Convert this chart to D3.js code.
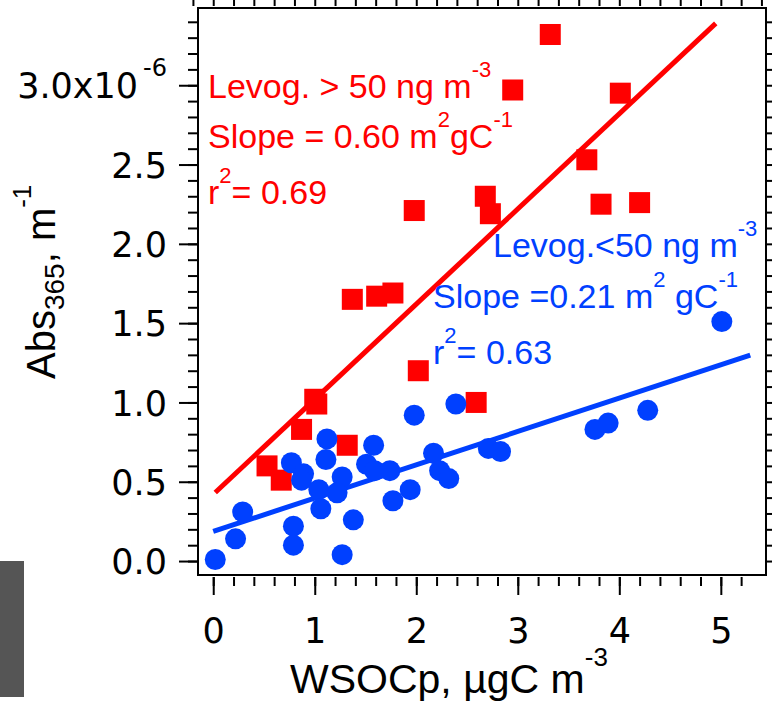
<!DOCTYPE html>
<html>
<head>
<meta charset="utf-8">
<script src="https://cdn.jsdelivr.net/npm/d3@7"></script>
<style>
  html, body { margin: 0; padding: 0; background: #fff; }
  svg { display: block; }
</style>
</head>
<body>
<svg id="chart" width="772" height="704"></svg>
<script>
// WSOCp (µgC m^-3) against Abs365 (units of 1e-6 m^-1)
// Samples with levoglucosan > 50 ng m^-3
const highWsoc = [3.32, 2.95, 4.01, 3.68, 3.82, 4.20, 2.68, 2.73, 1.98, 1.37, 1.61, 1.77, 2.02, 2.59, 1.00, 1.02, 0.87, 1.32, 0.53, 0.67];
const highAbs  = [3.32, 2.97, 2.95, 2.53, 2.25, 2.26, 2.30, 2.19, 2.21, 1.65, 1.67, 1.69, 1.20, 1.00, 1.02, 0.99, 0.83, 0.73, 0.60, 0.51];
// Samples with levoglucosan < 50 ng m^-3
const lowWsoc = [0.02, 0.22, 0.29, 0.79, 0.79, 0.77, 0.89, 0.87, 1.04, 1.06, 1.12, 1.11, 1.27, 1.22, 1.38, 1.27, 1.58, 1.51, 1.59, 1.74, 1.77, 1.94, 1.98, 2.39, 2.17, 2.23, 2.32, 2.71, 2.83, 3.76, 3.89, 4.28, 5.01];
const lowAbs  = [0.01, 0.14, 0.31, 0.22, 0.10, 0.62, 0.55, 0.51, 0.45, 0.33, 0.77, 0.64, 0.53, 0.43, 0.26, 0.04, 0.73, 0.61, 0.57, 0.57, 0.38, 0.45, 0.92, 0.99, 0.68, 0.57, 0.52, 0.71, 0.69, 0.83, 0.87, 0.95, 1.51];

// Linear fits: [intercept, slope] and the x span each line covers
const highFit = [0.42, 0.60];
const highFitSpan = [0.02, 4.95];
const lowFit = [0.187, 0.21];
const lowFitSpan = [0.0, 5.29];

// Axis ticks and labels
const xMajorTicks = [0, 1, 2, 3, 4, 5];
const xTickLabels = ["0", "1", "2", "3", "4", "5"];
const xMinorTicks = d3.range(0, 26.5).map(i => +(i * 0.2).toFixed(1));
const xTopTicks = d3.range(-1, 27.5).map(i => +(i * 0.2).toFixed(1));
const yMajorTicks = [0, 0.5, 1.0, 1.5, 2.0, 2.5, 3.0];
const yTickLabels = ["0.0", "0.5", "1.0", "1.5", "2.0", "2.5", "3.0x10"];
const yMinorTicks = d3.range(0, 34.5).map(i => +(i * 0.1).toFixed(1));

const RED = "#ff0000";
const BLUE = "#0040ff";
const SANS = "'Liberation Sans', Arial, Helvetica, sans-serif";
const TICKFONT = "'DejaVu Sans', Verdana, sans-serif";

const svg = d3.select("#chart");
const frame = { left: 198, right: 766, top: 8, bottom: 575 };

const x = d3.scaleLinear().domain([-0.15, 5.445]).range([frame.left, frame.right]);
const y = d3.scaleLinear().domain([-0.088, 3.487]).range([frame.bottom, frame.top]);

// grey block in the lower-left corner
svg.append("rect")
  .attr("x", 0).attr("y", 561).attr("width", 24).attr("height", 136)
  .attr("fill", "#555555");

// plot frame
svg.append("rect")
  .attr("x", frame.left).attr("y", frame.top)
  .attr("width", frame.right - frame.left).attr("height", frame.bottom - frame.top)
  .attr("fill", "none").attr("stroke", "#000").attr("stroke-width", 2);

function styleTicks(g) {
  g.select(".domain").remove();
  g.selectAll(".tick line").attr("stroke", "#000").attr("stroke-width", 2);
}

// bottom axis
svg.append("g").attr("transform", `translate(0,${frame.bottom + 2})`)
  .call(d3.axisBottom(x).tickValues(xMinorTicks).tickSize(9).tickFormat(""))
  .call(styleTicks);
const xAxisMajor = svg.append("g").attr("transform", `translate(0,${frame.bottom + 2})`)
  .call(d3.axisBottom(x).tickValues(xMajorTicks).tickSize(18).tickPadding(0)
    .tickFormat((d, i) => xTickLabels[i]))
  .call(styleTicks);
xAxisMajor.selectAll(".tick text")
  .attr("y", 66).attr("dy", null)
  .attr("font-family", TICKFONT).attr("font-size", 35).attr("fill", "#000");

// top mirror ticks
svg.append("g").attr("transform", `translate(0,${frame.top - 2})`)
  .call(d3.axisTop(x).tickValues(xTopTicks).tickSize(9).tickFormat(""))
  .call(styleTicks);

// left axis
svg.append("g").attr("transform", `translate(${frame.left - 1},0)`)
  .call(d3.axisLeft(y).tickValues(yMinorTicks).tickSize(9).tickFormat(""))
  .call(styleTicks);
const yAxisMajor = svg.append("g").attr("transform", `translate(${frame.left - 1},0)`)
  .call(d3.axisLeft(y).tickValues(yMajorTicks).tickSize(18).tickPadding(12)
    .tickFormat((d, i) => yTickLabels[i]))
  .call(styleTicks);
yAxisMajor.selectAll(".tick text")
  .attr("dy", "0.36em")
  .attr("font-family", TICKFONT).attr("font-size", 35).attr("fill", "#000");
// exponent on the top label
yAxisMajor.selectAll(".tick text").filter(d => d === 3.0)
  .append("tspan").attr("dx", 5).attr("dy", -22).attr("font-size", 24).text("-6");

// right mirror ticks
svg.append("g").attr("transform", `translate(${frame.right + 1},0)`)
  .call(d3.axisRight(y).tickValues(yMinorTicks).tickSize(9).tickFormat(""))
  .call(styleTicks);

// fit lines
const fitLine = d3.line().x(d => x(d[0])).y(d => y(d[1]));
function fitPoints(fit, span) {
  return span.map(v => [v, fit[0] + fit[1] * v]);
}
svg.append("path").datum(fitPoints(highFit, highFitSpan))
  .attr("d", fitLine).attr("stroke", RED).attr("stroke-width", 5).attr("fill", "none");
svg.append("path").datum(fitPoints(lowFit, lowFitSpan))
  .attr("d", fitLine).attr("stroke", BLUE).attr("stroke-width", 5).attr("fill", "none");

// markers
const SQ = 21;
svg.append("g").selectAll("rect")
  .data(d3.zip(highWsoc, highAbs))
  .join("rect")
  .attr("x", d => x(d[0]) - SQ / 2).attr("y", d => y(d[1]) - SQ / 2)
  .attr("width", SQ).attr("height", SQ).attr("fill", RED);

svg.append("g").selectAll("circle")
  .data(d3.zip(lowWsoc, lowAbs))
  .join("circle")
  .attr("cx", d => x(d[0])).attr("cy", d => y(d[1])).attr("r", 10.5)
  .attr("fill", BLUE);

// text with super/subscripts; parts are [text, "n" | "sup" | "sub"]
function richText(parent, px, py, parts, o) {
  const t = parent.append("text")
    .attr("x", px).attr("y", py)
    .attr("font-family", SANS).attr("font-size", o.size).attr("fill", o.color);
  let shift = 0;
  parts.forEach(([s, kind]) => {
    const target = kind === "sup" ? -o.supShift : kind === "sub" ? o.subShift : 0;
    t.append("tspan")
      .attr("dy", target - shift)
      .attr("font-size", kind === "n" ? o.size : (kind === "sup" ? o.supSize : o.subSize))
      .text(s);
    shift = target;
  });
  return t;
}

const redOpts = { size: 34, supSize: 22, supShift: 21, color: RED };
richText(svg, 208, 98, [["Levog. > 50 ng m", "n"], ["-3", "sup"]], redOpts);
richText(svg, 208, 148, [["Slope = 0.60 m", "n"], ["2", "sup"], ["gC", "n"], ["-1", "sup"]], redOpts);
richText(svg, 208, 204, [["r", "n"], ["2", "sup"], ["= 0.69", "n"]], redOpts);

const blueOpts = { size: 34, supSize: 22, supShift: 21, color: BLUE };
richText(svg, 493, 257, [["Levog.<50 ng m", "n"], ["-3", "sup"]], blueOpts);
richText(svg, 433, 308, [["Slope =0.21 m", "n"], ["2", "sup"], [" gC", "n"], ["-1", "sup"]], blueOpts);
richText(svg, 433, 364, [["r", "n"], ["2", "sup"], ["= 0.63", "n"]], blueOpts);

// axis titles
richText(svg, 290, 693, [["WSOCp, µgC m", "n"], ["-3", "sup"]],
  { size: 41, supSize: 26, supShift: 27, color: "#000" });

const yTitle = svg.append("g").attr("transform", "translate(55,379) rotate(-90)");
richText(yTitle, 0, 0, [["Abs", "n"], ["365", "sub"], [", m", "n"], ["-1", "sup"]],
  { size: 40, supSize: 26, supShift: 24, subSize: 28, subShift: 9, color: "#000" });
</script>
</body>
</html>
